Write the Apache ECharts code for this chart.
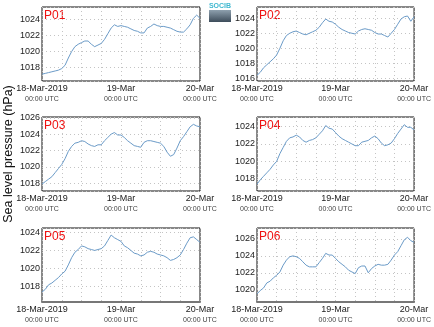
<!DOCTYPE html>
<html><head><meta charset="utf-8">
<script src="https://cdn.jsdelivr.net/npm/echarts@6/dist/echarts.min.js"></script>
<style>html,body{margin:0;padding:0;background:#fff}#c{width:434px;height:327px}</style>
</head><body><div id="c"></div>
<script>
// hours since 18-Mar-2019 00:00 UTC
const hours = Array.from({length: 49}, (_, i) => i);
const xTickLabels = {0: '18-Mar-2019', 24: '19-Mar', 48: '20-Mar'};
const timeLabel = '00:00 UTC';
const panelNames = ['P01', 'P02', 'P03', 'P04', 'P05', 'P06'];
const yAxisTitle = 'Sea level pressure (hPa)';

const p01 = [1017.2,1017.3,1017.4,1017.5,1017.6,1017.7,1017.9,1018.3,1019.2,1020.0,1020.6,1020.9,1021.1,1021.3,1021.3,1020.9,1020.6,1020.8,1021.0,1021.5,1022.2,1022.9,1023.3,1023.1,1023.2,1023.1,1023.0,1022.8,1022.6,1022.5,1022.3,1022.3,1022.9,1023.1,1023.4,1023.2,1023.1,1023.1,1023.0,1022.9,1022.7,1022.5,1022.4,1022.4,1022.8,1023.3,1024.1,1024.5,1024.1];
const p02 = [1016.4,1016.8,1017.4,1017.8,1018.2,1018.6,1019.1,1020.0,1021.0,1021.7,1022.0,1022.2,1022.3,1022.1,1021.9,1021.8,1022.0,1022.2,1022.4,1022.8,1023.4,1023.9,1023.6,1023.5,1023.2,1022.8,1022.5,1022.3,1022.1,1022.0,1021.9,1022.3,1022.5,1022.6,1022.5,1022.4,1022.1,1021.9,1021.9,1021.7,1021.5,1022.0,1022.5,1023.2,1023.9,1024.2,1024.3,1023.6,1024.2];
const p03 = [1017.9,1018.2,1018.5,1018.8,1019.3,1019.8,1020.3,1021.0,1021.9,1022.5,1022.9,1023.0,1023.2,1023.1,1022.8,1022.6,1022.5,1022.7,1022.7,1023.2,1023.6,1024.0,1024.2,1023.9,1023.9,1023.6,1023.2,1022.9,1022.6,1022.5,1022.4,1023.0,1023.2,1023.2,1023.1,1023.0,1022.9,1022.5,1021.8,1021.3,1021.5,1022.3,1023.2,1023.7,1024.3,1024.9,1025.2,1025.0,1024.9];
const p04 = [1017.4,1017.9,1018.3,1018.7,1019.1,1019.6,1020.0,1020.9,1021.6,1022.3,1022.7,1022.8,1023.0,1022.8,1022.4,1022.2,1022.4,1022.5,1022.7,1023.1,1023.5,1024.1,1023.8,1023.7,1023.3,1022.9,1022.6,1022.4,1022.2,1022.0,1021.8,1021.8,1022.2,1022.3,1022.4,1022.7,1022.9,1022.6,1022.1,1021.8,1021.9,1022.1,1022.6,1023.2,1023.7,1024.2,1023.9,1023.9,1023.6];
const p05 = [1017.4,1017.7,1018.2,1018.4,1018.7,1019.0,1019.4,1019.7,1020.4,1021.2,1021.8,1022.1,1022.5,1022.4,1022.2,1022.1,1022.0,1022.1,1022.2,1022.5,1023.1,1023.7,1023.4,1023.2,1023.0,1022.5,1022.3,1022.0,1021.7,1021.6,1021.4,1021.5,1021.8,1021.9,1021.8,1021.6,1021.5,1021.4,1021.2,1020.9,1021.0,1021.2,1021.5,1022.1,1022.8,1023.4,1023.5,1023.2,1022.9];
const p06 = [1019.5,1019.9,1020.2,1020.8,1021.0,1021.4,1021.7,1022.1,1022.9,1023.5,1023.9,1024.0,1023.9,1023.7,1023.3,1022.9,1022.7,1022.7,1022.7,1023.2,1023.7,1024.3,1024.1,1024.1,1023.7,1023.3,1023.0,1022.7,1022.3,1022.1,1021.9,1022.6,1022.8,1022.8,1022.0,1022.5,1022.8,1023.0,1022.9,1022.9,1023.0,1023.5,1024.1,1024.5,1025.2,1025.9,1026.2,1025.8,1025.6];
const yMins = [1016.36, 1015.64, 1017.05, 1016.62, 1016.3, 1018.54];
const yMaxs = [1025.5, 1025.5, 1026.1, 1025.08, 1024.48, 1027.3];
const panelData = [p01, p02, p03, p04, p05, p06];

const FONT = '"Liberation Sans", Arial, sans-serif';
const lefts = [42, 257];
const tops = [7, 117, 228];
const W = 158, H = 74;

const grids = [], xAxes = [], yAxes = [], series = [], graphics = [];
panelData.forEach((vals, i) => {
  const col = i % 2, row = Math.floor(i / 2);
  grids.push({left: lefts[col], top: tops[row], width: W, height: H,
    show: true, borderColor: '#111', borderWidth: 1, backgroundColor: '#fff'});
  xAxes.push({type: 'value', gridIndex: i, min: 0, max: 48, interval: 6,
    axisLine: {show: row === 2, lineStyle: {color: '#777', width: 2}},
    axisTick: {show: false},
    splitLine: {show: true, lineStyle: {color: '#c4c4c4', type: [1, 3], width: 1}},
    axisLabel: {show: true, margin: 3, showMinLabel: true, showMaxLabel: true,
      formatter: v => xTickLabels[v] !== undefined ? '{a|' + xTickLabels[v] + '}\n{b|' + timeLabel + '}' : '',
      rich: {a: {fontSize: 9, fontFamily: FONT, color: '#222', lineHeight: 10},
             b: {fontSize: 7, fontFamily: FONT, color: '#444', lineHeight: 10}}}
  });
  yAxes.push({type: 'value', gridIndex: i, min: yMins[i], max: yMaxs[i],
    minInterval: 2, maxInterval: 2,
    axisLine: {show: false}, axisTick: {show: false},
    splitLine: {show: true, lineStyle: {color: '#c4c4c4', type: [1, 3], width: 1}},
    axisLabel: {margin: 2, fontSize: 9, fontFamily: FONT, color: '#222',
      formatter: v => (Math.abs(v - Math.round(v)) < 1e-6 && Math.round(v) % 2 === 0) ? String(Math.round(v)) : ''}
  });
  series.push({type: 'line', xAxisIndex: i, yAxisIndex: i, showSymbol: false,
    data: hours.map((h, k) => [h, vals[k]]),
    lineStyle: {color: '#6b9bc8', width: 1}, animation: false});
  graphics.push({type: 'text', left: lefts[col] + 2, top: tops[row] + 3,
    style: {text: panelNames[i], fill: '#ee1111', font: '12px ' + FONT}});
});

graphics.push({type: 'text', x: 9, y: 154, rotation: Math.PI / 2,
  style: {text: yAxisTitle, fill: '#111', font: '12.5px ' + FONT, align: 'center', verticalAlign: 'middle'}});
// logo
graphics.push({type: 'text', x: 220, y: 6, style: {text: 'SOCIB', fill: '#3fb8d0', font: 'bold 7px ' + FONT, align: 'center', verticalAlign: 'middle'}});
graphics.push({type: 'rect', shape: {x: 209, y: 10, width: 22, height: 12},
  style: {fill: new echarts.graphic.LinearGradient(0, 0, 0, 1, [{offset: 0, color: '#8ea0ae'}, {offset: 1, color: '#3d4c5a'}])}});

const chart = echarts.init(document.getElementById('c'), null, {renderer: 'canvas'});
chart.setOption({animation: false, grid: grids, xAxis: xAxes, yAxis: yAxes, series: series, graphic: graphics});
</script></body></html>
